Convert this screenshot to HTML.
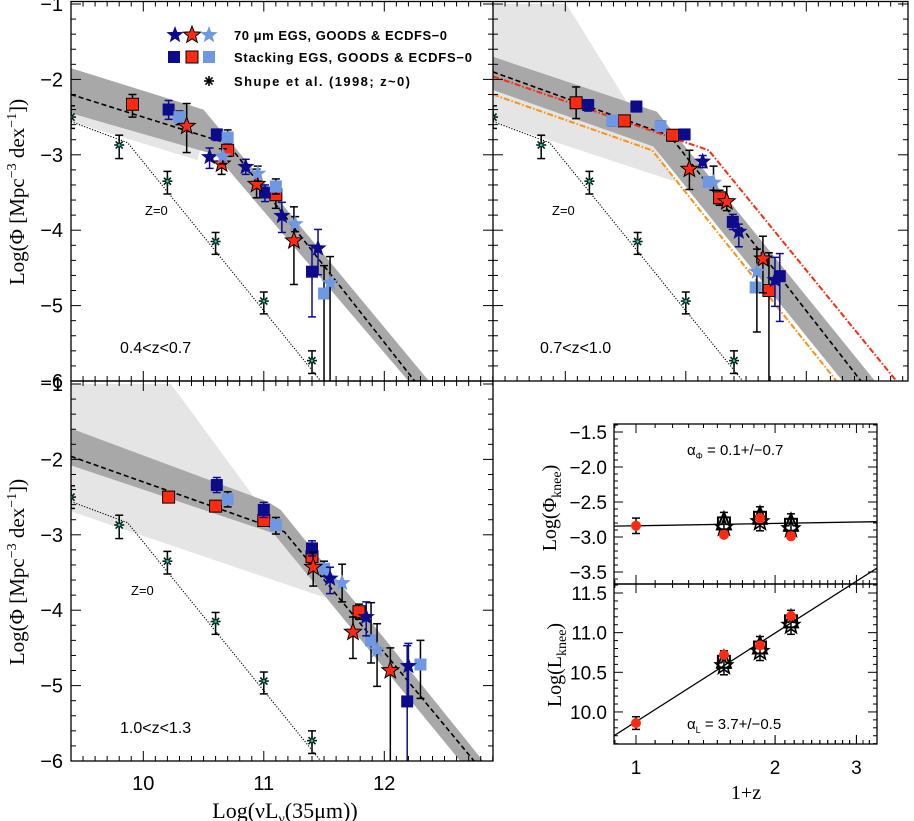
<!DOCTYPE html>
<html><head><meta charset="utf-8"><style>
body{margin:0;background:#fff}
svg{display:block}
text{font-family:"Liberation Sans",sans-serif;fill:#000}
.ser{font-family:"Liberation Serif",serif}
</style></head><body>
<svg id="fig" width="914" height="821" viewBox="0 0 914 821" xmlns="http://www.w3.org/2000/svg">
<defs>
<clipPath id="c-tl"><rect x="71" y="2" width="422" height="379"/></clipPath>
<clipPath id="c-tr"><rect x="493" y="2" width="415" height="379"/></clipPath>
<clipPath id="c-bl"><rect x="71" y="381" width="422" height="380"/></clipPath>
<clipPath id="c-br"><rect x="614" y="424" width="263" height="320"/></clipPath>
</defs>
<g id="layer"></g>
</svg>
<script>
// ---------- data (Log L, Log Phi, err down, err up) ----------
const shupePts = [[9.4,-2.5,0.15,0.15],[9.8,-2.87,0.18,0.13],[10.2,-3.35,0.17,0.13],[10.6,-4.15,0.17,0.12],[11.0,-4.94,0.17,0.12],[11.4,-5.73,0.17,0.13]];
const shupeLine = [[9.4,-2.56],[9.87,-2.84],[11.6,-6.25]];

const tlRedSq = [[9.91,-2.33,0.17,0.13],[10.70,-2.94,0.08,0.08],[11.10,-3.53,0.18,0.1]];
const tlDarkSq = [[10.21,-2.40,0.13,0.12],[10.61,-2.73,0.08,0.07],[11.01,-3.50,0.12,0.1],[11.40,-4.55,0.6,0.35]];
const tlLightSq = [[10.30,-2.50,0.1,0.08],[10.70,-2.77,0.08,0.1],[11.10,-3.42,0.1,0.1],[11.50,-4.84,1.6,0.37]];
const tlDarkSt = [[10.55,-3.03,0.15,0.12],[10.85,-3.16,0.1,0.1],[11.15,-3.81,0.22,0.18],[11.45,-4.24,0.35,0.25]];
const tlRedSt = [[10.36,-2.62,0.35,0.3],[10.65,-3.12,0.14,0.12],[10.94,-3.39,0.18,0.2],[11.25,-4.14,0.58,0.45]];
const tlLightSt = [[10.66,-3.02,0.1,0.1],[10.95,-3.25,0.1,0.1],[11.26,-3.92,0.1,0.1],[11.55,-4.70,1.6,0.35]];
const tlLight = [[9.4,-2.2],[10.5,-2.75],[10.45,-3.07],[9.4,-2.56]];
const tlBandUp = [[9.4,-1.85],[10.5,-2.4],[12.37,-6.0],[12.37,-6.5]];
const tlBandLo = [[12.2,-6.5],[12.2,-6.0],[10.6,-3.0],[9.4,-2.45]];
const tlFit = [[9.4,-2.2],[10.7,-2.85],[12.4,-6.3]];

const trRedSq = [[10.09,-2.31,0.21,0.21],[10.49,-2.55,0.07,0.07],[10.89,-2.74,0.08,0.05],[11.28,-3.57,0.1,0.1],[11.69,-4.80,2.0,0.5]];
const trDarkSq = [[10.19,-2.34,0.08,0.07],[10.59,-2.36,0.07,0.07],[10.99,-2.73,0.05,0.05],[11.39,-3.89,0.1,0.1],[11.78,-4.61,0.6,0.3]];
const trLightSq = [[10.39,-2.55,0.07,0.0],[10.79,-2.62,0.0,0.07],[11.19,-3.36,0.0,0.0],[11.58,-4.76,0.0,0.0]];
const trDarkSt = [[11.14,-3.09,0.08,0.08],[11.44,-4.02,0.2,0.1],[11.74,-4.66,0.35,0.3]];
const trRedSt = [[11.03,-3.19,0.27,0.25],[11.34,-3.62,0.12,0.2],[11.64,-4.38,0.45,0.3]];
const trLightSt = [[11.23,-3.37,0.1,0.22],[11.59,-4.55,0.8,0.3]];
const trLight = [[9.4,-1],[10.01,-1],[10.92,-3.36],[9.4,-2.56]];
const trBandUp = [[9.4,-1.7],[10.76,-2.43],[12.57,-6.0],[12.57,-6.5]];
const trBandLo = [[12.3,-6.5],[12.3,-6.0],[10.73,-2.89],[9.4,-2.14]];
const trFit = [[9.4,-1.9],[10.87,-2.75],[12.6,-6.3]];
const trRedLine = [[9.4,-1.96],[11.19,-2.94],[12.9,-6.3]];
const trOrangeLine = [[9.4,-2.2],[10.72,-2.94],[12.4,-6.3]];

const blRedSq = [[10.21,-2.50,0.07,0.07],[10.60,-2.62,0.07,0.07],[11.0,-2.81,0.07,0.07],[11.40,-3.29,0.1,0.1],[11.79,-4.02,0.1,0.1]];
const blDarkSq = [[10.61,-2.34,0.1,0.1],[11.0,-2.67,0.1,0.1],[11.40,-3.18,0.1,0.1],[12.19,-5.21,1.8,0.74]];
const blLightSq = [[10.70,-2.53,0.1,0.1],[11.10,-2.87,0.12,0.1],[11.50,-3.45,0.1,0.1],[11.89,-4.40,0.3,0.5],[12.30,-4.72,0.45,0.32]];
const blDarkSt = [[11.55,-3.58,0.2,0.15],[11.85,-4.09,0.25,0.2],[12.20,-4.74,0.5,0.3]];
const blRedSt = [[11.41,-3.43,0.25,0.2],[11.74,-4.29,0.35,0.2],[12.05,-4.80,1.8,0.3]];
const blLightSt = [[11.65,-3.64,0.25,0.25],[11.94,-4.53,0.48,0.35]];
const blLight = [[9.4,-1],[10.23,-1],[11.54,-3.85],[9.4,-2.69]];
const blBandUp = [[9.4,-1.59],[11.03,-2.56],[11.14,-2.67],[12.82,-6.0],[12.82,-6.5]];
const blBandLo = [[12.63,-6.5],[12.63,-6.0],[11.08,-2.98],[9.4,-2.08]];
const blFit = [[9.4,-1.96],[11.17,-2.96],[12.9,-6.3]];

// knee evolution panels
const kneeZ = [1.0, 1.55, 1.855, 2.165];
const kneePhi = [-2.84, -2.97, -2.73, -2.99];
const kneePhiOpen = [null, -2.82, -2.74, -2.84];
const kneeL = [9.86, 10.72, 10.84, 11.21];
const kneeLOpen = [null, 10.62, 10.8, 11.13];
const phiFit = [[0.896,-2.845],[3.4,-2.78]];
const lFit = [[0.896,9.70],[3.4,11.85]];

// ---------- drawing ----------
const NS='http://www.w3.org/2000/svg';
const root=document.getElementById('layer');
function mk(tag,attrs,parent){const e=document.createElementNS(NS,tag);for(const k in attrs)e.setAttribute(k,attrs[k]);(parent||root).appendChild(e);return e;}
const panels={tl:{x0:71,y0:4},tr:{x0:493,y0:4},bl:{x0:71,y0:384}};
function sx(p,X){return panels[p].x0+(X-9.4)*120.5;}
function sy(p,Y){return panels[p].y0+(-1-Y)*75.4;}
function pts(p,arr){return arr.map(d=>sx(p,d[0]).toFixed(1)+','+sy(p,d[1]).toFixed(1)).join(' ');}
function starPath(cx,cy,r){let s='';for(let i=0;i<10;i++){const a=-Math.PI/2+i*Math.PI/5;const rr=i%2?r*0.42:r;s+=(i?'L':'M')+(cx+rr*Math.cos(a)).toFixed(1)+','+(cy+rr*Math.sin(a)).toFixed(1);}return s+'Z';}

function errbar(g,x,y1,y2,col){
  mk('line',{x1:x,y1:y1,x2:x,y2:y2,stroke:col,'stroke-width':1.5},g);
  mk('line',{x1:x-4,y1:y1,x2:x+4,y2:y1,stroke:col,'stroke-width':1.5},g);
  mk('line',{x1:x-4,y1:y2,x2:x+4,y2:y2,stroke:col,'stroke-width':1.5},g);
}
function series(p,arr,kind,fill,stroke,ecol,name){
  const g=mk('g',{'clip-path':'url(#c-'+p+')'});
  
  
  arr.forEach(d=>{
    const x=sx(p,d[0]),y=sy(p,d[1]);
    if(d[2]||d[3]) errbar(g,x,sy(p,d[1]+d[3]),sy(p,d[1]-d[2]),ecol);
    let m;
    if(kind==='sq') m=mk('rect',{x:x-6,y:y-6,width:12,height:12,fill:fill,stroke:stroke||'none','stroke-width':1},g);
    else if(kind==='st') m=mk('path',{d:starPath(x,y,9),fill:fill,stroke:stroke||'none','stroke-width':1},g);
    else {
      m=mk('g',{},g);
      for(let i=0;i<4;i++){const a=i*Math.PI/4;mk('line',{x1:x-5*Math.cos(a),y1:y-5*Math.sin(a),x2:x+5*Math.cos(a),y2:y+5*Math.sin(a),stroke:'#021',"stroke-width":1.6},m);}
      mk('circle',{cx:x,cy:y,r:1.3,fill:'#2cc'},m);
    }
    
    
  });
}
function poly(p,arr,fill,name){const e=mk('polygon',{points:pts(p,arr),fill:fill,'clip-path':'url(#c-'+p+')'});
  
  }
function line(p,arr,col,dash,w,name){const e=mk('polyline',{points:pts(p,arr),fill:'none',stroke:col,'stroke-width':w,'stroke-dasharray':dash,'clip-path':'url(#c-'+p+')'});
  
  }

const DB='#0b0b8c',RD='#ff2a10',LB='#6f98e2';
function drawPanel(p,light,bu,bl,fit,sets){
  poly(p,light,'#e5e5e5',p+'-light-uncertainty');
  poly(p,bu.concat(bl),'#a8a8a8',p+'-fit-uncertainty-band');
  line(p,shupeLine,'#000','1.2 1.6',1.1,p+'-z0-fit-line');
  line(p,fit,'#000','5 3',1.6,p+'-fit-line');
  if(p==='tr'){line(p,trRedLine,RD,'6 2 1.5 2',2,'tr-red-dashdot-line');line(p,trOrangeLine,'#ff9010','6 2 1.5 2',2,'tr-orange-dashdot-line');}
  series(p,shupePts,'ast',null,null,'#000',p+'-shupe-points');
  series(p,sets[0],'sq',RD,'#000','#000',p+'-stack-red-squares');
  series(p,sets[1],'sq',DB,null,DB,p+'-stack-darkblue-squares');
  series(p,sets[2],'sq',LB,null,'#000',p+'-stack-lightblue-squares');
  series(p,sets[3],'st',DB,null,DB,p+'-70um-darkblue-stars');
  series(p,sets[4],'st',RD,'#000','#000',p+'-70um-red-stars');
  series(p,sets[5],'st',LB,null,'#000',p+'-70um-lightblue-stars');
}
drawPanel('tl',tlLight,tlBandUp,tlBandLo,tlFit,[tlRedSq,tlDarkSq,tlLightSq,tlDarkSt,tlRedSt,tlLightSt]);
drawPanel('tr',trLight,trBandUp,trBandLo,trFit,[trRedSq,trDarkSq,trLightSq,trDarkSt,trRedSt,trLightSt]);
drawPanel('bl',blLight,blBandUp,blBandLo,blFit,[blRedSq,blDarkSq,blLightSq,blDarkSt,blRedSt,blLightSt]);

// frames & ticks
function frame(x,y,w,h,name){const e=mk('rect',{x:x,y:y,width:w,height:h,fill:'none',stroke:'#000','stroke-width':1.3});
  
  }
frame(71,1.5,837,379.5,'top-row-frame');
frame(71,381,422,380,'bottom-left-frame');
mk('line',{x1:493,y1:1.5,x2:493,y2:381,stroke:'#000','stroke-width':1.3});
const tk=mk('g',{stroke:'#000','stroke-width':1});


function lfTicks(p,right,top,bot){
  for(let i=94;i<=129;i++){const X=i/10;const x=sx(p,X);if(x>right+0.5)break;const L=(i%10===0)?10:5;
    mk('line',{x1:x,y1:bot,x2:x,y2:bot-L},tk);mk('line',{x1:x,y1:top,x2:x,y2:top+L},tk);}
  for(let j=-30;j<=-5;j++){const Y=j/5;const y=sy(p,Y);if(y<top||y>bot)continue;const L=(j%5===0)?10:5;
    mk('line',{x1:panels[p].x0,y1:y,x2:panels[p].x0+L,y2:y},tk);mk('line',{x1:right,y1:y,x2:right-L,y2:y},tk);}
}
lfTicks('tl',493,1.5,381);lfTicks('tr',908,1.5,381);lfTicks('bl',493,381,761);

const yTickLabels=['\u22121','\u22122','\u22123','\u22124','\u22125','\u22126'];
const xTickLabels=['10','11','12'];
['tl','bl'].forEach(p=>{yTickLabels.forEach((t,i)=>{const e=mk('text',{x:63,y:sy(p,-1-i)+7,'font-size':20,'text-anchor':'end'});e.textContent=t;
  
  });});
xTickLabels.forEach((t,i)=>{const e=mk('text',{x:sx('bl',10+i),y:790,'font-size':20,'text-anchor':'middle'});e.textContent=t;
  
  });

function label(x,y,txt,size,name,anchor,cls){const e=mk('text',{x:x,y:y,'font-size':size,'text-anchor':anchor||'start'});if(cls)e.setAttribute('class',cls);e.innerHTML=txt;
  
  return e;}
label(145,215,'Z=0',13,'tl-z0-label');
label(552,215,'Z=0',13,'tr-z0-label');
label(131,595,'Z=0',13,'bl-z0-label');
label(120,353,'0.4&lt;z&lt;0.7',16,'tl-redshift-label');
label(540,353,'0.7&lt;z&lt;1.0',16,'tr-redshift-label');
label(120,733,'1.0&lt;z&lt;1.3',16,'bl-redshift-label');
[192,572].forEach((cy,i)=>{const e=label(0,0,'Log(Φ [Mpc<tspan dy="-8" font-size="14">−3</tspan><tspan dy="8"> dex</tspan><tspan dy="-8" font-size="14">−1</tspan><tspan dy="8">])</tspan>',21,i?'bl-y-axis-title':'tl-y-axis-title','middle','ser');e.setAttribute('transform','translate(24,'+cy+') rotate(-90)');});
label(285,818,'Log(νL<tspan dy="5" font-size="14">ν</tspan><tspan dy="-5">(35μm))</tspan>',22,'x-axis-title','middle','ser');

// legend
const lg=mk('g',{});


mk('path',{d:starPath(175,35,9),fill:DB},lg);mk('path',{d:starPath(192,35,9),fill:RD,stroke:'#000'},lg);mk('path',{d:starPath(209,35,9),fill:LB},lg);
mk('rect',{x:168,y:51,width:12,height:12,fill:DB},lg);mk('rect',{x:186,y:51,width:12,height:12,fill:RD,stroke:'#000'},lg);mk('rect',{x:203,y:51,width:12,height:12,fill:LB},lg);
for(let i=0;i<4;i++){const a=i*Math.PI/4;mk('line',{x1:209-5*Math.cos(a),y1:81-5*Math.sin(a),x2:209+5*Math.cos(a),y2:81+5*Math.sin(a),stroke:'#000','stroke-width':1.6},lg);}
[['70 μm EGS, GOODS &amp; ECDFS−0',40,213],['Stacking EGS, GOODS &amp; ECDFS−0',62,238],['Shupe et al. (1998; z~0)',86,176]].forEach(r=>{const e=mk('text',{x:234,y:r[1],'font-size':13,'font-weight':'bold',textLength:r[2],lengthAdjust:'spacing'},lg);e.innerHTML=r[0];});

// ---------- knee panels ----------
function kx(z){return 636+462*Math.log10(z);}
function ky1(v){return 432+(-1.5-v)*70;}
function ky2(v){return 593+(11.5-v)*79.3;}
frame(614,424,263,160,'phi-knee-panel');
frame(614,584,263,160,'l-knee-panel');
const kt=mk('g',{stroke:'#000','stroke-width':1});


[0.9,1,1.1,1.2,1.3,1.4,1.5,1.6,1.7,1.8,1.9,2,2.1,2.2,2.3,2.4,2.5,2.6,2.7,2.8,2.9,3,3.1,3.2].forEach(z=>{const x=kx(z);if(x<614||x>877)return;const L=(z===1||z===2||z===3)?9:4;
  [424,584,744].forEach(y=>{mk('line',{x1:x,y1:y,x2:x,y2:y+(y===744?-L:L)},kt);if(y!==424)mk('line',{x1:x,y1:y,x2:x,y2:y-L},kt);});});
for(let v=-3.7;v<=-1.3;v+=0.1){const y=ky1(v);if(y<424||y>584)continue;const L=Math.abs(v*2-Math.round(v*2))<0.01?9:4;mk('line',{x1:614,y1:y,x2:614+L,y2:y},kt);mk('line',{x1:877,y1:y,x2:877-L,y2:y},kt);}
for(let v=9.6;v<=11.7;v+=0.1){const y=ky2(v);if(y<584||y>744)continue;const L=Math.abs(v*2-Math.round(v*2))<0.01?9:4;mk('line',{x1:614,y1:y,x2:614+L,y2:y},kt);mk('line',{x1:877,y1:y,x2:877-L,y2:y},kt);}
const phiTicks=['−1.5','−2.0','−2.5','−3.0','−3.5'];
phiTicks.forEach((t,i)=>label(607,ky1(-1.5-0.5*i)+7,t,19,'phi-y-tick-label','end'));
const lTicks=['11.5','11.0','10.5','10.0'];
lTicks.forEach((t,i)=>label(607,ky2(11.5-0.5*i)+7,t,19,'l-y-tick-label','end'));
const zTicks=[1,2,3];
zTicks.forEach(z=>label(kx(z),774,String(z),19,'z-tick-label','middle'));
label(746,799,'1+z',20,'z-axis-title','middle','ser');
{const e=label(0,0,'Log(Φ<tspan dy="5" font-size="14">knee</tspan><tspan dy="-5">)</tspan>',20,'phi-knee-y-title','middle','ser');e.setAttribute('transform','translate(556,508) rotate(-90)');}
{const e=label(0,0,'Log(L<tspan dy="5" font-size="14">knee</tspan><tspan dy="-5">)</tspan>',20,'l-knee-y-title','middle','ser');e.setAttribute('transform','translate(561,665) rotate(-90)');}
label(687,455,'α<tspan dy="4" font-size="9">Φ</tspan><tspan dy="-4"> = 0.1+/−0.7</tspan>',15,'alpha-phi-label');
label(687,729,'α<tspan dy="4" font-size="9">L</tspan><tspan dy="-4"> = 3.7+/−0.5</tspan>',15,'alpha-l-label');
const kg=mk('g',{'clip-path':'url(#c-br)'});


mk('line',{x1:kx(phiFit[0][0]),y1:ky1(phiFit[0][1]),x2:kx(phiFit[1][0]),y2:ky1(phiFit[1][1]),stroke:'#000','stroke-width':1.3},kg);
mk('line',{x1:kx(lFit[0][0]),y1:ky2(lFit[0][1]),x2:kx(lFit[1][0]),y2:ky2(lFit[1][1]),stroke:'#000','stroke-width':1.3},kg);
function openSyms(g,x,y){
  mk('rect',{x:x-6,y:y-7,width:12,height:12,fill:'none',stroke:'#000','stroke-width':2},g);
  mk('path',{d:`M${x},${y-12}L${x+7},${y+5}L${x-7},${y+5}Z`,fill:'none',stroke:'#000','stroke-width':2},g);
  mk('path',{d:starPath(x,y+3,9),fill:'none',stroke:'#000','stroke-width':1.6},g);
  errbar(g,x,y-12,y+12,'#000');
}
kneeZ.forEach((z,i)=>{
  const x=kx(z);
  const g=mk('g',{});
  
  
  if(kneePhiOpen[i]!==null) openSyms(g,x,ky1(kneePhiOpen[i]));
  if(kneeLOpen[i]!==null) openSyms(g,x,ky2(kneeLOpen[i]));
  if(i===0){errbar(g,x,ky1(kneePhi[i]+0.11),ky1(kneePhi[i]-0.11),'#000');errbar(g,x,ky2(kneeL[i]+0.08),ky2(kneeL[i]-0.08),'#000');}
  mk('circle',{cx:x,cy:ky1(kneePhi[i]),r:5,fill:RD},g);
  mk('circle',{cx:x,cy:ky2(kneeL[i]),r:5,fill:RD},g);
});
</script>
</body></html>
